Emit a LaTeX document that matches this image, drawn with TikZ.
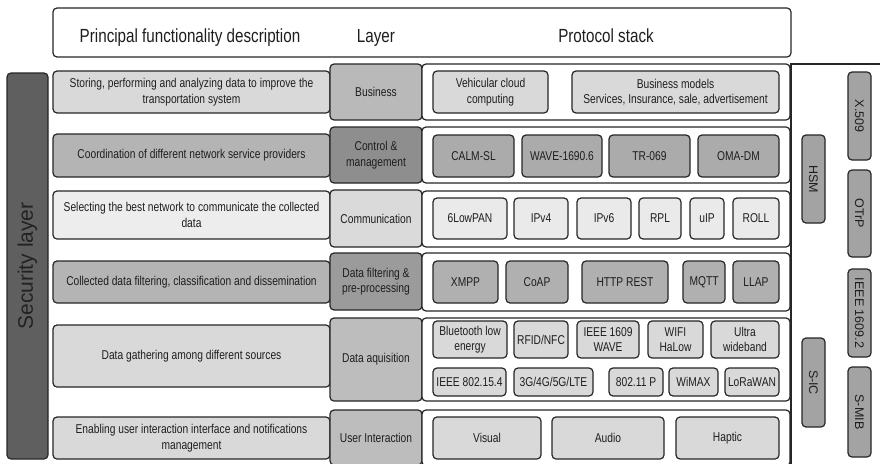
\documentclass[tikz,border=0pt]{standalone}
\usepackage{graphicx}
\usepackage{fontspec}
\setmainfont{Liberation Sans}[FakeStretch=0.8]
\newfontfamily\rotfont{Liberation Sans}
\newcommand\smallfnt{\fontsize{12.8}{15.5}\selectfont}
\definecolor{linec}{HTML}{262626}
\definecolor{textc}{HTML}{1E1E1E}
\definecolor{secfill}{HTML}{5F5F5F}
\definecolor{secText}{HTML}{222222}
\definecolor{descA}{HTML}{D9D9D9}
\definecolor{descB}{HTML}{B4B4B4}
\definecolor{descC}{HTML}{EDEDED}
\definecolor{layBiz}{HTML}{B9B9B9}
\definecolor{layCtl}{HTML}{8E8E8E}
\definecolor{layCom}{HTML}{DADADA}
\definecolor{layFil}{HTML}{9B9B9B}
\definecolor{layAcq}{HTML}{BDBDBD}
\definecolor{inLight}{HTML}{D9D9D9}
\definecolor{inMid}{HTML}{ABABAB}
\definecolor{inPale}{HTML}{EAEAEA}
\definecolor{inFil}{HTML}{B0B0B0}
\definecolor{sideFill}{HTML}{A3A3A3}
\tikzset{
  bb/.style args={#1/#2/#3/#4}{minimum width={((#3)-(#1))*1pt}, minimum height={((#4)-(#2))*1pt},
     at={({((#1)+(#3))/2},{((#2)+(#4))/2})}},
  rb/.style={draw=linec, line width=1.2pt, rounded corners=4pt, inner sep=0pt, align=center, font=\smallfnt, text=textc},
  descbox/.style={rb},
  laybox/.style={rb},
  contbox/.style={rb, fill=white},
  inbox/.style={rb},
  sidebox/.style={rb, fill=sideFill},
  hdtext/.style={font=\fontsize{19}{22}\selectfont, text=textc, anchor=base, inner sep=0pt}
}
\begin{document}
\begin{tikzpicture}[x=1pt,y=-1pt]
\clip (0,0) rectangle (880,463);
\fill[white] (0,0) rectangle (880,463);
% header
\node[rb, fill=white, bb=53/8/791/57] (hd) {};
\node[hdtext] (hdesc) at (190,42.7) {Principal functionality description};
\node[hdtext] (hlay) at (376,42.7) {Layer};
\node[hdtext] (hstack) at (606,42.7) {Protocol stack};
% security bar
\node[rb, fill=secfill, bb=7/73/48/459] (sec) {\rotatebox{90}{\rotfont\fontsize{21}{24}\selectfont\color{secText}Security layer}};
% description boxes
\node[descbox, fill=descA, bb=53/71/330/113] (d1) {Storing, performing and analyzing data to improve the\\transportation system};
\node[descbox, fill=descB, bb=53/134/330/177] (d2) {Coordination of different network service providers};
\node[descbox, fill=descC, bb=53/191/330/239] (d3) {Selecting the best network to communicate the collected\\data};
\node[descbox, fill=descB, bb=53/261/330/303] (d4) {Collected data filtering, classification and dissemination};
\node[descbox, fill=descA, bb=53/325/330/387] (d5) {Data gathering among different sources};
\node[descbox, fill=descA, bb=53/417/330/459] (d6) {Enabling user interaction interface and notifications\\management};
% layer boxes
\node[laybox, fill=layBiz, bb=330/64/422/120] (l1) {Business};
\node[laybox, fill=layCtl, bb=330/127/422/183] (l2) {Control \&\\management};
\node[laybox, fill=layCom, bb=330/190/422/247] (l3) {Communication};
\node[laybox, fill=layFil, bb=330/253/422/310] (l4) {Data filtering \&\\pre-processing};
\node[laybox, fill=layAcq, bb=330/318/422/401] (l5) {Data aquisition};
\node[laybox, fill=layAcq, bb=330/410/422/465] (l6) {User Interaction};
% containers
\node[contbox, bb=422/64/790/120] (c1) {};
\node[contbox, bb=422/127/790/183] (c2) {};
\node[contbox, bb=422/191/790/247] (c3) {};
\node[contbox, bb=422/253/790/311] (c4) {};
\node[contbox, bb=422/318/790/401] (c5) {};
\node[contbox, bb=422/410/790/466] (c6) {};
% right frame line
\coordinate (vtop) at (791,64);
\coordinate (vbot) at (791,470);
\coordinate (hend) at (885,64);
\draw[linec, line width=1.2pt] (hend) -- (vtop) -- (vbot);
% row 1
\node[inbox, fill=inLight, bb=433/71/548/113] (vcc) {Vehicular cloud\\computing};
\node[inbox, fill=inLight, bb=572/71/779/113] (bm) {Business models\\Services, Insurance, sale, advertisement};
% row 2
\node[inbox, fill=inMid, bb=433/135/514/177] (calm) {CALM-SL};
\node[inbox, fill=inMid, bb=522/135/602/177] (wave) {WAVE-1690.6};
\node[inbox, fill=inMid, bb=609/135/690/177] (tr) {TR-069};
\node[inbox, fill=inMid, bb=698/135/779/177] (oma) {OMA-DM};
% row 3
\node[inbox, fill=inPale, bb=433/198/507/239] (lowpan) {6LowPAN};
\node[inbox, fill=inPale, bb=514/198/568/239] (ipv4) {IPv4};
\node[inbox, fill=inPale, bb=577/198/631/239] (ipv6) {IPv6};
\node[inbox, fill=inPale, bb=639/198/681/239] (rpl) {RPL};
\node[inbox, fill=inPale, bb=690/198/724/239] (uip) {uIP};
\node[inbox, fill=inPale, bb=733/198/779/239] (roll) {ROLL};
% row 4
\node[inbox, fill=inFil, bb=433/261/498/303] (xmpp) {XMPP};
\node[inbox, fill=inFil, bb=506/261/568/303] (coap) {CoAP};
\node[inbox, fill=inFil, bb=582/261/668/303] (http) {HTTP REST};
\node[inbox, fill=inFil, bb=683/261/725/303] (mqtt) {MQTT};
\node[inbox, fill=inFil, bb=733/261/779/303] (llap) {LLAP};
% row 5
\node[inbox, fill=inLight, bb=433/321/507/358] (ble) {Bluetooth low\\energy};
\node[inbox, fill=inLight, bb=514/321/568/358] (rfid) {RFID/NFC};
\node[inbox, fill=inLight, bb=577/321/639/358] (ieeewave) {IEEE 1609\\WAVE};
\node[inbox, fill=inLight, bb=648/321/703/358] (wifi) {WIFI\\HaLow};
\node[inbox, fill=inLight, bb=711/321/779/358] (uwb) {Ultra\\wideband};
\node[inbox, fill=inLight, bb=433/368/506/396] (ieee154) {IEEE 802.15.4};
\node[inbox, fill=inLight, bb=514/368/593/396] (cell) {3G/4G/5G/LTE};
\node[inbox, fill=inLight, bb=609/368/663/396] (p80211) {802.11 P};
\node[inbox, fill=inLight, bb=669/368/718/396] (wimax) {WiMAX};
\node[inbox, fill=inLight, bb=725/368/779/396] (lora) {LoRaWAN};
% row 6
\node[inbox, fill=inLight, bb=433/417/541/459] (visual) {Visual};
\node[inbox, fill=inLight, bb=552/417/664/459] (audio) {Audio};
\node[inbox, fill=inLight, bb=676/417/779/459] (haptic) {Haptic};
% side boxes
\node[sidebox, bb=802/135/825/223] (hsm) {\rotatebox{-90}{\rotfont\fontsize{12.5}{14}\selectfont HSM}};
\node[sidebox, bb=802/338/825/427] (sic) {\rotatebox{-90}{\rotfont\fontsize{12.5}{14}\selectfont S-IC}};
\node[sidebox, bb=848/72/871/160] (x509) {\rotatebox{-90}{\rotfont\fontsize{12.5}{14}\selectfont X.509}};
\node[sidebox, bb=848/170/871/257] (otrp) {\rotatebox{-90}{\rotfont\fontsize{12.5}{14}\selectfont OTrP}};
\node[sidebox, bb=848/269/871/357] (i16092) {\rotatebox{-90}{\rotfont\fontsize{12.5}{14}\selectfont IEEE 1609.2}};
\node[sidebox, bb=848/367/871/457] (smib) {\rotatebox{-90}{\rotfont\fontsize{12.5}{14}\selectfont S-MIB}};
\end{tikzpicture}
\end{document}
